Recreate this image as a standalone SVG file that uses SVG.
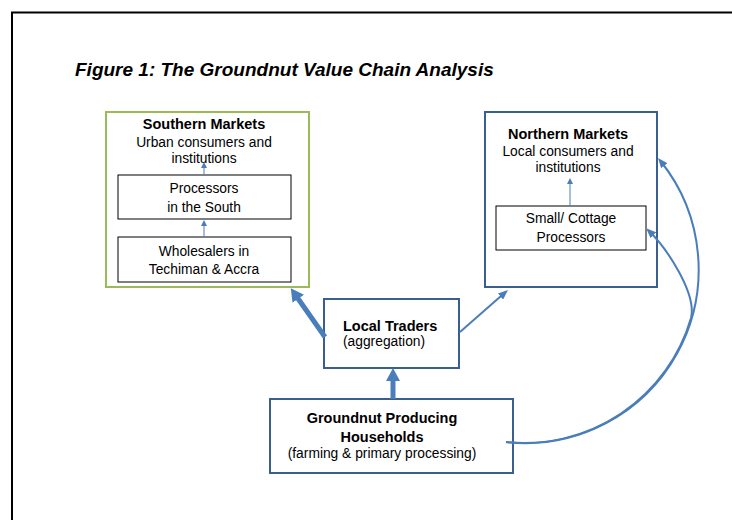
<svg xmlns="http://www.w3.org/2000/svg" width="732" height="520" viewBox="0 0 732 520">
<style>
text{font-family:"Liberation Sans",Arial,sans-serif;fill:#000}
.t{font-size:13.8px;text-anchor:middle}
.b{font-size:14.5px;font-weight:bold;text-anchor:middle}
.title{font-size:19px;font-weight:bold;font-style:italic}
.blue{fill:#fff;stroke:#3a5f8f;stroke-width:2}
.inner{fill:#fff;stroke:#000;stroke-width:1}
.c{fill:none;stroke:#4a7ebb;stroke-width:2}
.c1{fill:none;stroke:#4a7ebb;stroke-width:1}
.c5{fill:none;stroke:#4a7ebb;stroke-width:5}
</style>
<defs>
<marker id="as" markerUnits="userSpaceOnUse" markerWidth="6" markerHeight="6" refX="3" refY="3" orient="auto"><path d="M0,0 L6,3 L0,6 z" fill="#4a7ebb"/></marker>
<marker id="am" markerUnits="userSpaceOnUse" markerWidth="10" markerHeight="8" refX="6" refY="4" orient="auto"><path d="M0,0 L10,4 L0,8 z" fill="#4a7ebb"/></marker>
<marker id="ab" markerUnits="userSpaceOnUse" markerWidth="13" markerHeight="14" refX="2" refY="7" orient="auto"><path d="M0,0 L13,7 L0,14 z" fill="#4a7ebb"/></marker>
</defs>
<rect width="732" height="520" fill="#fff"/>
<rect x="12" y="12.5" width="730" height="520" fill="none" stroke="#000" stroke-width="2"/>
<text class="title" x="75" y="76">Figure 1: The Groundnut Value Chain Analysis</text>

<g id="southern-markets">
<rect x="106" y="112" width="203" height="175" fill="#fff" stroke="#9bbb59" stroke-width="2"/>
<text class="b" x="204" y="129">Southern Markets</text>
<text class="t" x="204" y="146.5">Urban consumers and</text>
<text class="t" x="204" y="163">institutions</text>
</g>
<g id="processors-south">
<rect class="inner" x="118" y="175" width="173" height="44"/>
<text class="t" x="204" y="193">Processors</text>
<text class="t" x="204" y="211.5">in the South</text>
</g>
<g id="wholesalers">
<rect class="inner" x="118" y="237" width="173" height="45"/>
<text class="t" x="204" y="255.5">Wholesalers in</text>
<text class="t" x="204" y="274">Techiman &amp; Accra</text>
</g>
<g id="northern-markets">
<rect class="blue" x="485" y="112" width="172" height="175"/>
<text class="b" x="568" y="139">Northern Markets</text>
<text class="t" x="568" y="156">Local consumers and</text>
<text class="t" x="568" y="171.5">institutions</text>
</g>
<g id="cottage-processors">
<rect class="inner" x="496" y="206" width="150" height="44"/>
<text class="t" x="571" y="223">Small/ Cottage</text>
<text class="t" x="571" y="242">Processors</text>
</g>
<g id="local-traders">
<rect class="blue" x="324" y="299" width="135" height="69"/>
<text class="b" x="343" y="331" style="text-anchor:start">Local Traders</text>
<text class="t" x="343" y="346" style="text-anchor:start">(aggregation)</text>
</g>
<g id="households">
<rect class="blue" x="270" y="399" width="243" height="74"/>
<text class="b" x="382" y="422.5">Groundnut Producing</text>
<text class="b" x="382" y="441.5">Households</text>
<text class="t" x="382" y="458">(farming &amp; primary processing)</text>
</g>

<g id="connectors">
<line class="c1" x1="204" y1="175" x2="204" y2="165" marker-end="url(#as)"/>
<line class="c1" x1="204" y1="237" x2="204" y2="223" marker-end="url(#as)"/>
<line class="c1" x1="570" y1="206" x2="570" y2="181" marker-end="url(#as)"/>
<line class="c5" x1="393" y1="399" x2="393" y2="379" marker-end="url(#ab)"/>
<line class="c5" x1="325" y1="337" x2="297.1" y2="297.2" marker-end="url(#ab)"/>
<line class="c" x1="460" y1="332" x2="505" y2="292.6" marker-end="url(#am)"/>
<path class="c" d="M506,442 A173.5,173.5 0 0 0 660.5,161" marker-end="url(#am)"/>
<path class="c" d="M506,442 A173.5,173.5 0 0 0 691,318 C697,294 667,248.5 649,231" marker-end="url(#am)"/>
</g>
</svg>
